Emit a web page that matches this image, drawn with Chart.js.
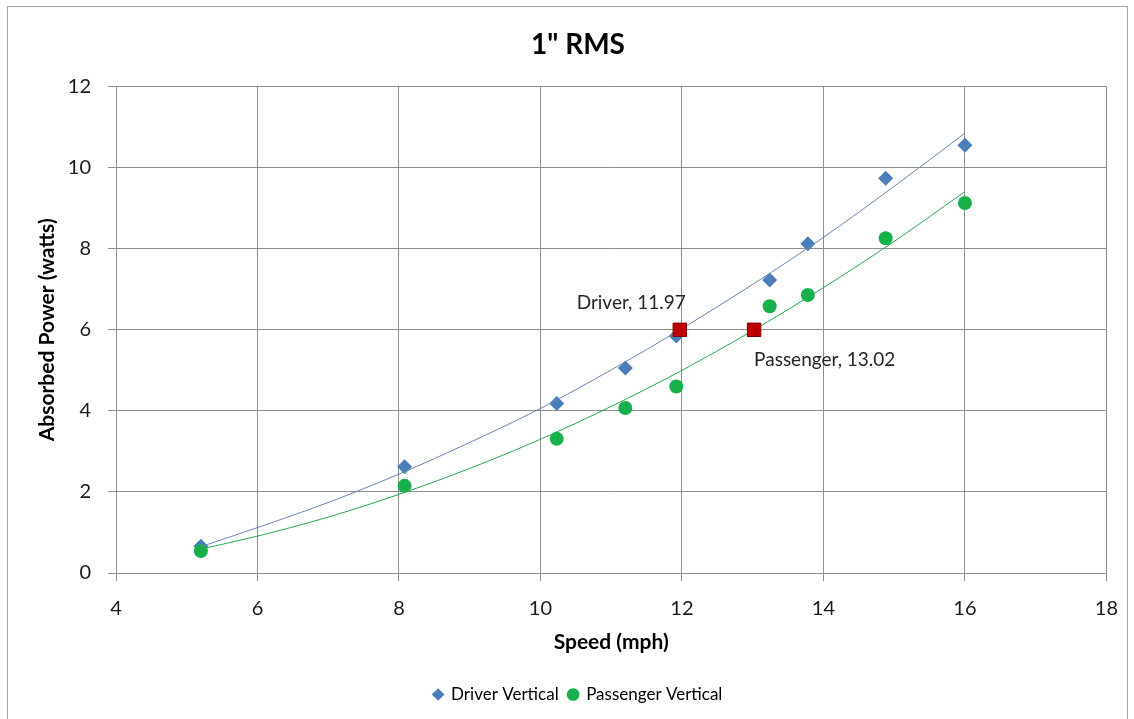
<!DOCTYPE html>
<html>
<head>
<meta charset="utf-8">
<script src="https://cdn.jsdelivr.net/npm/chart.js@4/dist/chart.umd.min.js"></script>
<style>
  html, body { margin: 0; padding: 0; background: #ffffff; }
  #wrap { width: 1134px; height: 719px; position: relative; }
</style>
</head>
<body>
<div id="wrap"><canvas id="chart" width="1134" height="719"></canvas></div>
<script>
// Measured points: speed (mph) vs absorbed power (watts)
const speedMph       = [5.2, 8.08, 10.23, 11.2, 11.92, 13.24, 13.78, 14.88, 16.0];
const driverWatts    = [0.66, 2.62, 4.18, 5.06, 5.85, 7.23, 8.12, 9.74, 10.55];
const passengerWatts = [0.54, 2.15, 3.31, 4.07, 4.60, 6.58, 6.86, 8.26, 9.13];

// Fitted trend curves, sampled along the speed range
const trendSpeed     = [5.2, 6, 7, 8, 9, 10, 11, 12, 13, 14, 15, 16];
const driverTrend    = [0.65, 1.12, 1.74, 2.44, 3.22, 4.06, 5.01, 6.03, 7.12, 8.28, 9.54, 10.85];
const passengerTrend = [0.59, 0.91, 1.38, 1.94, 2.58, 3.30, 4.11, 5.00, 5.98, 7.04, 8.18, 9.41];

// Speeds at which each trend reaches the target power
const targetPower    = 6;
const crossingNames  = ['Driver', 'Passenger'];
const crossingSpeed  = [11.97, 13.02];

// Axis ticks
const xTickValues = [4, 6, 8, 10, 12, 14, 16, 18];
const yTickValues = [0, 2, 4, 6, 8, 10, 12];

const FONT = 'Lato, "Open Sans", "DejaVu Sans", sans-serif';
const GRID = '#8e8e8e';
const BLUE = '#4a7ebb';
const GREEN = '#16b14a';
const RED = '#c00000';

const pairs = (xs, ys) => xs.map((x, i) => ({ x: x, y: ys[i] }));

// White page with a thin frame around the chart
const framePlugin = {
  id: 'frame',
  beforeDraw(chart) {
    const ctx = chart.ctx;
    ctx.save();
    ctx.fillStyle = '#ffffff';
    ctx.fillRect(0, 0, chart.width, chart.height);
    ctx.strokeStyle = '#a6a6a6';
    ctx.lineWidth = 1;
    ctx.strokeRect(7.5, 6.5, 1120, 740);
    ctx.restore();
  }
};

// Text labels next to the target-power crossing markers
const crossingLabelPlugin = {
  id: 'crossingLabels',
  afterDatasetsDraw(chart) {
    const idx = chart.data.datasets.findIndex(d => d.label === 'Crossing');
    if (idx < 0) return;
    const meta = chart.getDatasetMeta(idx);
    const ctx = chart.ctx;
    ctx.save();
    ctx.font = '19px ' + FONT;
    ctx.fillStyle = '#262626';
    ctx.textBaseline = 'middle';
    meta.data.forEach((pt, i) => {
      const text = crossingNames[i] + ', ' + crossingSpeed[i].toFixed(2);
      if (i === 0) {
        ctx.textAlign = 'right';
        ctx.fillText(text, pt.x + 6, pt.y - 27);
      } else {
        ctx.textAlign = 'left';
        ctx.fillText(text, pt.x, pt.y + 30);
      }
    });
    ctx.restore();
  }
};

new Chart(document.getElementById('chart'), {
  type: 'scatter',
  data: {
    datasets: [
      {
        label: 'Crossing',
        data: pairs(crossingSpeed, crossingSpeed.map(() => targetPower)),
        pointStyle: 'rect',
        pointRadius: 9.5,
        backgroundColor: RED,
        borderColor: '#7f0000',
        borderWidth: 1,
        order: 0
      },
      {
        label: 'Driver trend',
        data: pairs(trendSpeed, driverTrend),
        showLine: true,
        pointRadius: 0,
        borderColor: '#6a86b3',
        borderWidth: 1,
        cubicInterpolationMode: 'monotone',
        order: 1
      },
      {
        label: 'Passenger trend',
        data: pairs(trendSpeed, passengerTrend),
        showLine: true,
        pointRadius: 0,
        borderColor: '#2aa655',
        borderWidth: 1,
        cubicInterpolationMode: 'monotone',
        order: 1
      },
      {
        label: 'Passenger Vertical',
        data: pairs(speedMph, passengerWatts),
        pointStyle: 'circle',
        pointRadius: 7,
        backgroundColor: GREEN,
        borderColor: GREEN,
        borderWidth: 0,
        order: 2
      },
      {
        label: 'Driver Vertical',
        data: pairs(speedMph, driverWatts),
        pointStyle: 'rectRot',
        pointRadius: 7.5,
        backgroundColor: BLUE,
        borderColor: BLUE,
        borderWidth: 0,
        order: 3
      }
    ]
  },
  options: {
    responsive: false,
    animation: false,
    devicePixelRatio: 1,
    layout: { padding: { left: 49, right: 27, top: 0, bottom: 6 } },
    plugins: {
      title: {
        display: true,
        text: '1" RMS',
        color: '#000000',
        font: { family: FONT, size: 28, weight: 'bold' },
        padding: { top: 28, bottom: 25 }
      },
      legend: {
        display: true,
        position: 'bottom',
        labels: {
          usePointStyle: true,
          boxWidth: 9,
          boxHeight: 9,
          color: '#000000',
          font: { family: FONT, size: 17 },
          padding: 10,
          sort: (a, b) => (a.text === 'Driver Vertical' ? -1 : 1),
          filter: item => item.text === 'Driver Vertical' || item.text === 'Passenger Vertical'
        }
      },
      tooltip: { enabled: false }
    },
    scales: {
      x: {
        type: 'linear',
        min: 4,
        max: 18,
        afterBuildTicks: s => { s.ticks = xTickValues.map(v => ({ value: v })); },
        afterFit: s => { s.height = 103; },
        grid: { color: GRID, lineWidth: 1, tickLength: 8, drawTicks: true },
        border: { display: true, color: GRID, width: 1 },
        ticks: { color: '#1a1a1a', font: { family: FONT, size: 20 }, padding: 16 },
        title: {
          display: true,
          text: 'Speed (mph)',
          color: '#000000',
          font: { family: FONT, size: 21, weight: 'bold' },
          padding: { top: 0, bottom: 21 }
        }
      },
      y: {
        type: 'linear',
        min: 0,
        max: 12,
        afterBuildTicks: s => { s.ticks = yTickValues.map(v => ({ value: v })); },
        afterFit: s => { s.width = 67; },
        grid: { color: GRID, lineWidth: 1, tickLength: 8, drawTicks: true },
        border: { display: true, color: GRID, width: 1 },
        ticks: { color: '#1a1a1a', font: { family: FONT, size: 20 }, padding: 17 },
        title: {
          display: true,
          text: 'Absorbed Power (watts)',
          color: '#000000',
          font: { family: FONT, size: 21, weight: 'bold' },
          padding: { top: -14.6, bottom: 0 }
        }
      }
    }
  },
  plugins: [framePlugin, crossingLabelPlugin]
});
</script>
</body>
</html>
